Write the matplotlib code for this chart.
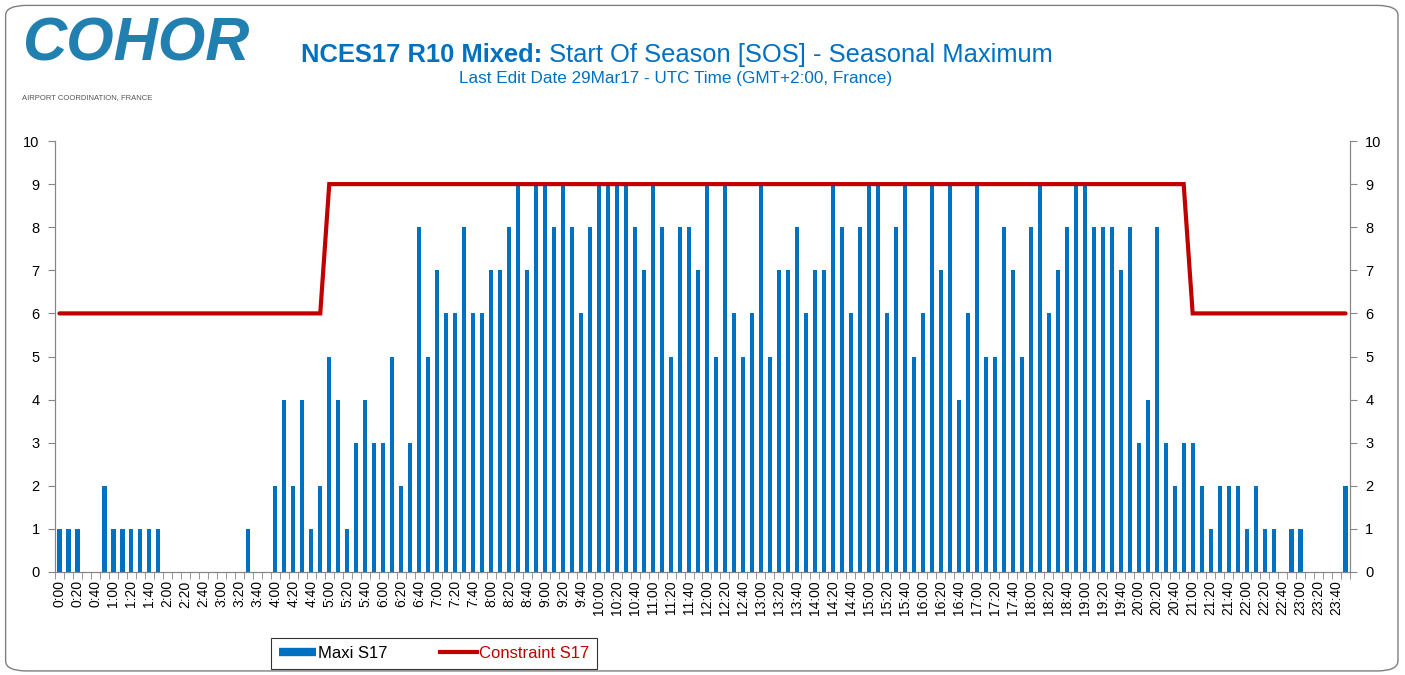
import numpy as np
import matplotlib
matplotlib.use("Agg")
import matplotlib.pyplot as plt
from matplotlib.lines import Line2D
from matplotlib.patches import FancyBboxPatch

plt.rcParams['font.family'] = ['Liberation Sans', 'DejaVu Sans']

# 10-minute slots, 0:00 .. 23:50
slots = ["%d:%02d" % (m // 60, m % 60) for m in range(0, 24 * 60, 10)]

maxi_s17 = [1, 1, 1, 0, 0, 2, 1, 1, 1, 1, 1, 1,          # 0:00-1:50
            0, 0, 0, 0, 0, 0, 0, 0, 0, 1, 0, 0,          # 2:00-3:50
            2, 4, 2, 4, 1, 2, 5, 4, 1, 3, 4, 3,          # 4:00-5:50
            3, 5, 2, 3, 8, 5, 7, 6, 6, 8, 6, 6,          # 6:00-7:50
            7, 7, 8, 9, 7, 9, 9, 8, 9, 8, 6, 8,          # 8:00-9:50
            9, 9, 9, 9, 8, 7, 9, 8, 5, 8, 8, 7,          # 10:00-11:50
            9, 5, 9, 6, 5, 6, 9, 5, 7, 7, 8, 6,          # 12:00-13:50
            7, 7, 9, 8, 6, 8, 9, 9, 6, 8, 9, 5,          # 14:00-15:50
            6, 9, 7, 9, 4, 6, 9, 5, 5, 8, 7, 5,          # 16:00-17:50
            8, 9, 6, 7, 8, 9, 9, 8, 8, 8, 7, 8,          # 18:00-19:50
            3, 4, 8, 3, 2, 3, 3, 2, 1, 2, 2, 2,          # 20:00-21:50
            1, 2, 1, 1, 0, 1, 1, 0, 0, 0, 0, 2]          # 22:00-23:50

constraint_s17 = [6] * 30 + [9] * 96 + [6] * 18

blue = '#0070C0'
red = '#C00000'
grey = '#868686'

fig = plt.figure(figsize=(14.05, 6.75), dpi=100)

# rounded frame around the whole chart
frame = FancyBboxPatch((0.004, 0.006), 0.991, 0.986,
                       boxstyle="round,pad=0,rounding_size=0.015",
                       transform=fig.transFigure, facecolor='white',
                       edgecolor='#7f7f7f', linewidth=1.0, zorder=-10)
fig.patches.append(frame)

ax = fig.add_axes([0.0391, 0.1526, 0.9218, 0.6385])
x = np.arange(len(slots))
ax.bar(x, maxi_s17, width=0.47, color=blue, zorder=2)
ax.plot(x, constraint_s17, color=red, linewidth=3, zorder=3,
        solid_capstyle='round', solid_joinstyle='miter')

ax.set_xlim(-0.5, len(slots) - 0.5)
ax.set_ylim(0, 10)
ax.set_yticks(range(0, 11))
ax.set_xticks(x[::2])
ax.set_xticklabels(slots[::2], rotation=90, fontsize=10)
ax.set_xticks(np.arange(-0.5, len(slots), 1), minor=True)
ax.tick_params(axis='x', which='major', length=0, pad=6)
ax.tick_params(axis='x', which='minor', length=5, color=grey)
ax.tick_params(axis='y', length=5, color=grey, labelsize=10.5, pad=6)

ax.spines['top'].set_visible(False)
for s in ['left', 'right', 'bottom']:
    ax.spines[s].set_color(grey)

ax2 = ax.twinx()
ax2.set_ylim(0, 10)
ax2.set_yticks(range(0, 11))
ax2.tick_params(axis='y', length=5, color=grey, labelsize=10.5, pad=6)
ax2.spines['top'].set_visible(False)
for s in ['left', 'right', 'bottom']:
    ax2.spines[s].set_color(grey)

# title
fig.text(0.386, 0.918, "NCES17 R10 Mixed:", ha='right', va='center',
         fontsize=18.4, fontweight='bold', color=blue)
fig.text(0.386, 0.918, " Start Of Season [SOS] - Seasonal Maximum", ha='left',
         va='center', fontsize=18.4, color=blue)
fig.text(0.481, 0.883, "Last Edit Date 29Mar17 - UTC Time (GMT+2:00, France)",
         ha='center', va='center', fontsize=12.3, color=blue)

# logo
fig.text(0.016, 0.933, "COHOR", ha='left', va='center', fontsize=44,
         fontweight='bold', style='italic', color='#2180B0')
fig.text(0.016, 0.855, "AIRPORT COORDINATION, FRANCE", ha='left', va='center',
         fontsize=5.5, color='#555555')

handles = [Line2D([0], [0], color=blue, linewidth=6, solid_capstyle='butt'),
           Line2D([0], [0], color=red, linewidth=3)]
leg = fig.legend(handles, ["Maxi S17", "Constraint S17"], loc='center',
                 bbox_to_anchor=(0.309, 0.032), ncol=2, fontsize=12,
                 frameon=True, fancybox=False, edgecolor='black',
                 handlelength=2.2, handletextpad=0.1, columnspacing=3.2,
                 borderpad=0.5)
leg.get_frame().set_linewidth(0.8)
leg.get_texts()[1].set_color(red)

fig.savefig("out.png", dpi=100)
